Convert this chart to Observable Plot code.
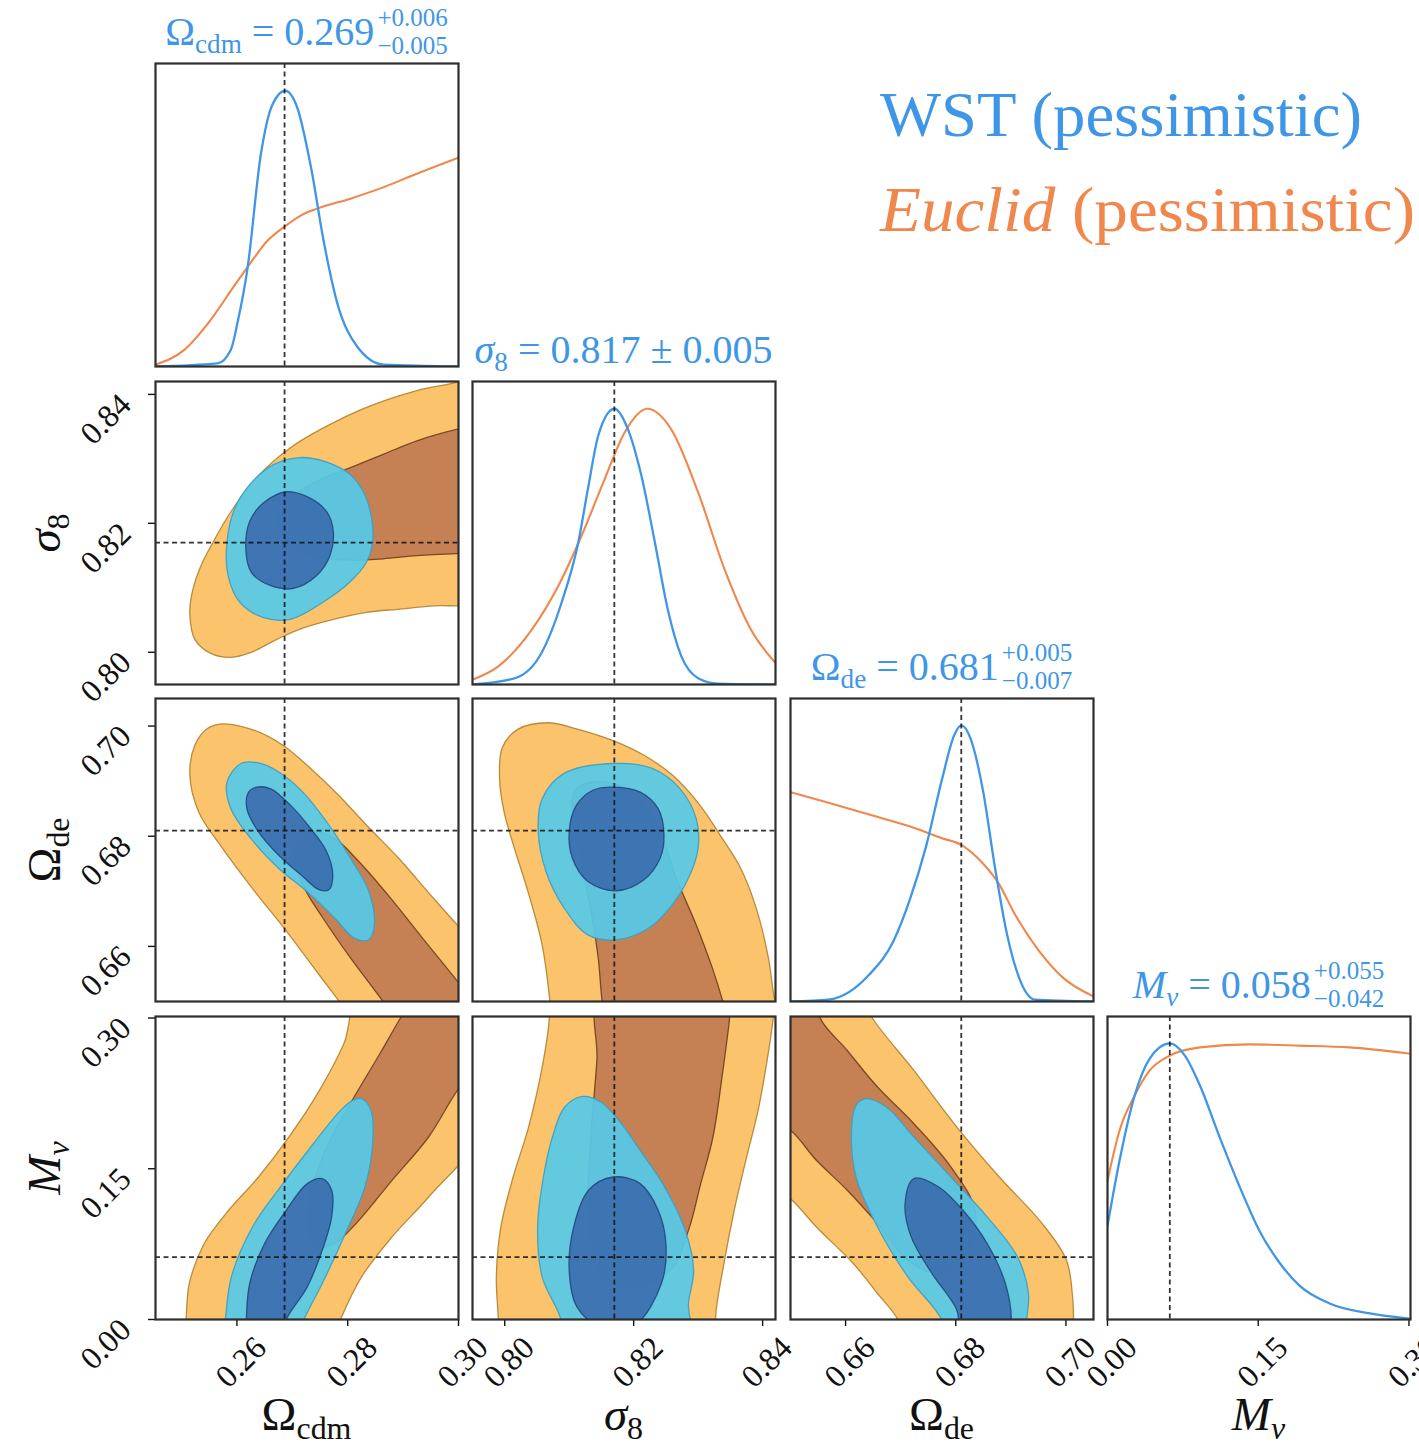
<!DOCTYPE html>
<html><head><meta charset="utf-8">
<script src="https://cdn.jsdelivr.net/npm/d3@7"></script>
<script src="https://cdn.jsdelivr.net/npm/@observablehq/plot@0.6"></script>
<style>
body{margin:0;background:#fff;}
#chart{position:relative;width:1419px;height:1453px;overflow:hidden;background:#fff;font-family:"Liberation Serif",serif;}
#chart svg{position:absolute;}
.ttl{position:absolute;transform:translateX(-50%);height:58px;display:flex;align-items:center;font-size:40px;color:#4096e6;white-space:nowrap;line-height:1;}
.sb{font-size:0.68em;position:relative;top:0.28em;}
.stk{display:flex;flex-direction:column;font-size:25px;line-height:1.12;margin-left:3px;}
.it{font-style:italic;}
.xl{position:absolute;transform:translateX(-50%);font-size:47px;line-height:1;top:1391px;white-space:nowrap;color:#111;}
.yl{position:absolute;left:44px;transform:translate(-50%,-50%) rotate(-90deg);font-size:47px;line-height:1;white-space:nowrap;color:#111;}
.lg{position:absolute;left:880px;font-size:64px;line-height:1;white-space:nowrap;transform-origin:left center;}
</style>
</head><body>
<div id="chart"></div>
<script>
// ---------------- data ----------------
const params = ["Ωcdm", "σ8", "Ωde", "Mν"];
const domains = [[0.2453, 0.300], [0.795, 0.842], [0.650, 0.705], [0.0, 0.3015]];
const tickValues = [[0.26, 0.28, 0.30], [0.80, 0.82, 0.84], [0.66, 0.68, 0.70], [0.00, 0.15, 0.30]];
const fiducial = [0.2686, 0.817, 0.681, 0.062];

// 1D marginal posteriors [value, relative density]
const wst1d_Ocdm = [[0.2453,0],[0.2565,0.01],[0.2589,0.055],[0.2601,0.144],[0.2619,0.322],[0.2643,0.698],[0.2664,0.864],[0.2687,0.910],[0.2709,0.854],[0.2733,0.664],[0.2757,0.410],[0.2781,0.210],[0.2817,0.066],[0.2865,0.006],[0.3000,0]];
const euclid1d_Ocdm = [[0.2453,0.006],[0.2505,0.055],[0.2553,0.155],[0.2595,0.266],[0.2625,0.343],[0.2655,0.415],[0.2687,0.463],[0.2715,0.498],[0.2745,0.521],[0.2805,0.554],[0.2865,0.592],[0.2926,0.637],[0.3000,0.689]];
const wst1d_S8 = [[0.7950,0],[0.8016,0.021],[0.8057,0.104],[0.8088,0.269],[0.8114,0.468],[0.8129,0.645],[0.8145,0.821],[0.8170,0.910],[0.8191,0.843],[0.8212,0.689],[0.8233,0.468],[0.8253,0.247],[0.8274,0.093],[0.8300,0.021],[0.8330,0.003],[0.8420,0]];
const euclid1d_S8 = [[0.7950,0.016],[0.7990,0.060],[0.8042,0.181],[0.8083,0.325],[0.8119,0.490],[0.8155,0.678],[0.8186,0.832],[0.8221,0.910],[0.8258,0.843],[0.8300,0.634],[0.8341,0.380],[0.8382,0.181],[0.8420,0.071]];
const wst1d_Ode = [[0.6500,0],[0.6569,0.006],[0.6643,0.089],[0.6687,0.2],[0.6716,0.333],[0.6746,0.511],[0.6775,0.733],[0.6797,0.878],[0.6810,0.911],[0.6827,0.867],[0.6849,0.7],[0.6871,0.444],[0.6893,0.222],[0.6915,0.078],[0.6944,0.006],[0.7050,0]];
const euclid1d_Ode = [[0.6500,0.691],[0.6569,0.656],[0.6643,0.617],[0.6716,0.578],[0.6775,0.539],[0.6810,0.517],[0.6849,0.456],[0.6878,0.389],[0.6907,0.289],[0.6951,0.167],[0.6995,0.078],[0.7050,0.017]];
const wst1d_Mnu = [[0,0.310],[0.012,0.525],[0.027,0.739],[0.042,0.861],[0.062,0.911],[0.077,0.871],[0.092,0.772],[0.111,0.607],[0.131,0.442],[0.151,0.294],[0.171,0.188],[0.191,0.112],[0.221,0.053],[0.261,0.020],[0.300,0.003]];
const euclid1d_Mnu = [[0,0.459],[0.012,0.624],[0.027,0.739],[0.042,0.822],[0.062,0.871],[0.092,0.898],[0.141,0.908],[0.191,0.904],[0.241,0.898],[0.300,0.878]];

// 2D contour outlines [x value, y value]: 95% and 68% regions
// Ωcdm – σ8
const euclid95_OcdmS8 = [[0.3045,0.8432],[0.2998,0.8419],[0.2925,0.8406],[0.2834,0.8380],[0.2756,0.8348],[0.2696,0.8317],[0.2641,0.8276],[0.2593,0.8223],[0.2557,0.8171],[0.2533,0.8130],[0.2518,0.8088],[0.2515,0.8057],[0.2524,0.8020],[0.2551,0.7999],[0.2587,0.7992],[0.2623,0.7999],[0.2672,0.8020],[0.2714,0.8036],[0.2774,0.8051],[0.2834,0.8062],[0.2895,0.8067],[0.2955,0.8072],[0.2998,0.8072],[0.3045,0.8072]];
const euclid68_OcdmS8 = [[0.3045,0.8354],[0.2998,0.8346],[0.2925,0.8328],[0.2864,0.8307],[0.2804,0.8286],[0.2744,0.8265],[0.2696,0.8239],[0.2672,0.8208],[0.2684,0.8177],[0.2732,0.8150],[0.2804,0.8143],[0.2864,0.8145],[0.2925,0.8150],[0.2998,0.8153],[0.3045,0.8154]];
const wst95_OcdmS8 = [[0.2714,0.8302],[0.2762,0.8295],[0.2804,0.8276],[0.2831,0.8244],[0.2843,0.8208],[0.2845,0.8171],[0.2834,0.8140],[0.2804,0.8109],[0.2756,0.8078],[0.2696,0.8051],[0.2647,0.8054],[0.2605,0.8078],[0.2584,0.8119],[0.2582,0.8171],[0.2596,0.8223],[0.2623,0.8260],[0.2666,0.8291]];
const wst68_OcdmS8 = [[0.2690,0.8249],[0.2732,0.8239],[0.2762,0.8218],[0.2774,0.8187],[0.2768,0.8150],[0.2744,0.8119],[0.2702,0.8099],[0.2659,0.8104],[0.2626,0.8124],[0.2616,0.8161],[0.2623,0.8203],[0.2647,0.8231]];
// Ωcdm – Ωde
const euclid95_OcdmOde = [[0.2574,0.7004],[0.2632,0.6992],[0.2683,0.6965],[0.2733,0.6923],[0.2784,0.6874],[0.2834,0.6820],[0.2892,0.6760],[0.2949,0.6694],[0.2998,0.6639],[0.3058,0.6579],[0.3058,0.6459],[0.2815,0.6459],[0.2784,0.6501],[0.2748,0.6549],[0.2690,0.6627],[0.2632,0.6700],[0.2574,0.6778],[0.2531,0.6844],[0.2515,0.6911],[0.2524,0.6965],[0.2546,0.6995]];
const euclid68_OcdmOde = [[0.2733,0.6808],[0.2776,0.6796],[0.2820,0.6754],[0.2877,0.6688],[0.2935,0.6615],[0.2998,0.6537],[0.3036,0.6489],[0.2892,0.6459],[0.2863,0.6501],[0.2805,0.6579],[0.2755,0.6652],[0.2719,0.6712],[0.2704,0.6772]];
const wst95_OcdmOde = [[0.2607,0.6932],[0.2639,0.6933],[0.2675,0.6917],[0.2719,0.6880],[0.2762,0.6826],[0.2805,0.6760],[0.2838,0.6700],[0.2848,0.6639],[0.2838,0.6612],[0.2812,0.6615],[0.2776,0.6652],[0.2726,0.6700],[0.2675,0.6742],[0.2625,0.6796],[0.2589,0.6850],[0.2582,0.6898]];
const wst68_OcdmOde = [[0.2636,0.6889],[0.2661,0.6886],[0.2697,0.6856],[0.2733,0.6814],[0.2762,0.6772],[0.2773,0.6730],[0.2766,0.6703],[0.2748,0.6703],[0.2719,0.6727],[0.2675,0.6766],[0.2639,0.6808],[0.2618,0.6850],[0.2621,0.6880]];
// σ8 – Ωde
const euclid95_S8Ode = [[0.8067,0.7006],[0.8111,0.6995],[0.8167,0.6974],[0.8216,0.6947],[0.8260,0.6911],[0.8303,0.6856],[0.8334,0.6802],[0.8366,0.6742],[0.8390,0.6670],[0.8409,0.6579],[0.8418,0.6507],[0.8428,0.6459],[0.8073,0.6459],[0.8070,0.6501],[0.8058,0.6603],[0.8036,0.6700],[0.8015,0.6778],[0.7999,0.6844],[0.7992,0.6905],[0.7996,0.6960],[0.8020,0.6994]];
const euclid68_S8Ode = [[0.8111,0.6886],[0.8154,0.6899],[0.8204,0.6874],[0.8241,0.6808],[0.8266,0.6724],[0.8297,0.6639],[0.8322,0.6561],[0.8338,0.6501],[0.8347,0.6459],[0.8157,0.6459],[0.8151,0.6501],[0.8145,0.6579],[0.8133,0.6670],[0.8117,0.6760],[0.8105,0.6832]];
const wst95_S8Ode = [[0.8167,0.6932],[0.8229,0.6923],[0.8272,0.6886],[0.8297,0.6832],[0.8300,0.6778],[0.8285,0.6724],[0.8260,0.6676],[0.8223,0.6633],[0.8173,0.6612],[0.8129,0.6621],[0.8092,0.6670],[0.8064,0.6736],[0.8052,0.6808],[0.8058,0.6868],[0.8092,0.6914]];
const wst68_S8Ode = [[0.8170,0.6889],[0.8210,0.6880],[0.8238,0.6850],[0.8247,0.6802],[0.8241,0.6760],[0.8216,0.6721],[0.8173,0.6701],[0.8129,0.6718],[0.8105,0.6760],[0.8100,0.6808],[0.8111,0.6856],[0.8136,0.6883]];
// Ωcdm – Mν
const euclid95_OcdmMnu = [[0.2825,0.3240],[0.3055,0.3240],[0.3055,0.1981],[0.2946,0.1219],[0.2880,0.0822],[0.2825,0.0424],[0.2787,0.0],[0.2771,-0.0238],[0.2503,-0.0238],[0.2508,0.0],[0.2514,0.0358],[0.2541,0.0756],[0.2585,0.1087],[0.2639,0.1418],[0.2694,0.1816],[0.2749,0.2280],[0.2793,0.2743]];
const euclid68_OcdmMnu = [[0.2924,0.3240],[0.3055,0.3240],[0.3055,0.2677],[0.2998,0.2280],[0.2946,0.1816],[0.2880,0.1385],[0.2815,0.0954],[0.2776,0.0756],[0.2743,0.0722],[0.2727,0.0954],[0.2738,0.1352],[0.2771,0.1816],[0.2815,0.2246],[0.2858,0.2644],[0.2897,0.3015]];
const wst95_OcdmMnu = [[0.2825,0.2197],[0.2842,0.2081],[0.2845,0.1749],[0.2831,0.1319],[0.2793,0.0822],[0.2754,0.0358],[0.2721,0.0],[0.2705,-0.0238],[0.2574,-0.0238],[0.2579,0.0],[0.2590,0.0424],[0.2628,0.0921],[0.2683,0.1352],[0.2738,0.1749],[0.2787,0.2081],[0.2809,0.2180]];
const wst68_OcdmMnu = [[0.2754,0.1402],[0.2771,0.1286],[0.2771,0.1021],[0.2754,0.0689],[0.2727,0.0325],[0.2689,0.0],[0.2678,-0.0238],[0.2617,-0.0238],[0.2617,0.0],[0.2623,0.0358],[0.2650,0.0756],[0.2689,0.1087],[0.2727,0.1352]];
// σ8 – Mν
const euclid95_S8Mnu = [[0.8065,0.3240],[0.8421,0.3240],[0.8417,0.3015],[0.8407,0.2578],[0.8393,0.2081],[0.8374,0.1584],[0.8356,0.1087],[0.8341,0.0590],[0.8327,0.0],[0.8332,-0.0238],[0.7990,-0.0238],[0.7990,0.0],[0.7987,0.0424],[0.7994,0.0921],[0.8013,0.1418],[0.8037,0.1915],[0.8060,0.2578],[0.8069,0.3015]];
const euclid68_S8Mnu = [[0.8149,0.3240],[0.8351,0.3240],[0.8349,0.3015],[0.8337,0.2412],[0.8323,0.1816],[0.8304,0.1352],[0.8285,0.0888],[0.8257,0.0491],[0.8201,0.0325],[0.8149,0.0457],[0.8130,0.1087],[0.8133,0.1749],[0.8143,0.2578]];
const wst95_S8Mnu = [[0.8121,0.2220],[0.8149,0.2164],[0.8177,0.1981],[0.8210,0.1683],[0.8248,0.1319],[0.8280,0.0888],[0.8293,0.0491],[0.8285,0.0159],[0.8285,-0.0238],[0.8088,-0.0238],[0.8087,0.0],[0.8058,0.0424],[0.8051,0.0921],[0.8060,0.1418],[0.8074,0.1816],[0.8093,0.2114]];
const wst68_S8Mnu = [[0.8168,0.1418],[0.8210,0.1352],[0.8238,0.1087],[0.8250,0.0756],[0.8243,0.0358],[0.8201,-0.0056],[0.8144,-0.0056],[0.8112,0.0126],[0.8100,0.0491],[0.8107,0.0921],[0.8130,0.1286]];
// Ωde – Mν
const euclid95_OdeMnu = [[0.6437,0.3240],[0.6630,0.3240],[0.6647,0.3015],[0.6724,0.2478],[0.6802,0.1915],[0.6879,0.1418],[0.6957,0.0954],[0.7001,0.0590],[0.7012,0.0226],[0.7014,0.0],[0.7017,-0.0238],[0.6710,-0.0238],[0.6695,0.0],[0.6658,0.0259],[0.6614,0.0557],[0.6547,0.0921],[0.6503,0.1186],[0.6437,0.1484]];
const euclid68_OdeMnu = [[0.6437,0.3240],[0.6558,0.3240],[0.6553,0.3015],[0.6603,0.2677],[0.6658,0.2313],[0.6724,0.1948],[0.6791,0.1518],[0.6835,0.1087],[0.6824,0.0689],[0.6769,0.0457],[0.6713,0.0590],[0.6658,0.0954],[0.6603,0.1286],[0.6547,0.1584],[0.6500,0.1882],[0.6437,0.2081]];
const wst95_OdeMnu = [[0.6636,0.2197],[0.6674,0.2114],[0.6724,0.1816],[0.6791,0.1418],[0.6857,0.1021],[0.6912,0.0623],[0.6932,0.0259],[0.6929,0.0],[0.6929,-0.0238],[0.6780,-0.0238],[0.6774,0.0],[0.6713,0.0424],[0.6658,0.0921],[0.6619,0.1418],[0.6611,0.1915],[0.6619,0.2130]];
const wst68_OdeMnu = [[0.6724,0.1402],[0.6769,0.1319],[0.6813,0.1087],[0.6857,0.0756],[0.6890,0.0358],[0.6901,0.0],[0.6896,-0.0238],[0.6813,-0.0238],[0.6802,0.0093],[0.6757,0.0457],[0.6719,0.0822],[0.6708,0.1153]];

// ---------------- styling / layout ----------------
const BLUE = "#4096e6", ORANGE = "#f0874c";
const FILL = {e95: "#fbc36c", e68: "#c58054", w95: "#56c9e7", w68: "#3b6fae"};
const EDGE = {e95: "#b3822f", e68: "#6e3f20", w95: "#3aa0c4", w68: "#24477c"};
const colX = [155, 472, 790, 1107];
const rowY = [63, 381, 698, 1016];
const SIZE = 303;

const marginals = [[wst1d_Ocdm, euclid1d_Ocdm], [wst1d_S8, euclid1d_S8], [wst1d_Ode, euclid1d_Ode], [wst1d_Mnu, euclid1d_Mnu]];
const contours = {
  "1-0": [euclid95_OcdmS8, euclid68_OcdmS8, wst95_OcdmS8, wst68_OcdmS8],
  "2-0": [euclid95_OcdmOde, euclid68_OcdmOde, wst95_OcdmOde, wst68_OcdmOde],
  "2-1": [euclid95_S8Ode, euclid68_S8Ode, wst95_S8Ode, wst68_S8Ode],
  "3-0": [euclid95_OcdmMnu, euclid68_OcdmMnu, wst95_OcdmMnu, wst68_OcdmMnu],
  "3-1": [euclid95_S8Mnu, euclid68_S8Mnu, wst95_S8Mnu, wst68_S8Mnu],
  "3-2": [euclid95_OdeMnu, euclid68_OdeMnu, wst95_OdeMnu, wst68_OdeMnu]
};

const fmt = d3.format(".2f");
const blank = () => "";
const dash = {stroke: "#111", strokeWidth: 1.8, strokeDasharray: "5,3.5", strokeOpacity: 0.85};
const TICKFONT = 32;
const chart = document.getElementById("chart");

function contourMark(data, key, opacity) {
  return Plot.line(data, {x: d => d[0], y: d => d[1], curve: "catmull-rom-closed",
    fill: FILL[key], fillOpacity: opacity, stroke: EDGE[key], strokeWidth: 1.3, strokeOpacity: 0.9, clip: true});
}

for (let i = 0; i < 4; i++) {
  for (let j = 0; j <= i; j++) {
    const diag = i === j;
    const marks = [];
    if (diag) {
      const [w, e] = marginals[j];
      marks.push(Plot.line(e, {x: d => d[0], y: d => d[1], stroke: ORANGE, strokeWidth: 2.1, curve: "monotone-x", clip: true}));
      marks.push(Plot.line(w, {x: d => d[0], y: d => d[1], stroke: BLUE, strokeWidth: 2.3, curve: "monotone-x", clip: true}));
      marks.push(Plot.ruleX([fiducial[j]], dash));
    } else {
      const [e95, e68, w95, w68] = contours[`${i}-${j}`];
      marks.push(contourMark(e95, "e95", 1));
      marks.push(contourMark(e68, "e68", 1));
      marks.push(contourMark(w95, "w95", 0.93));
      marks.push(contourMark(w68, "w68", 0.93));
      marks.push(Plot.ruleX([fiducial[j]], dash));
      marks.push(Plot.ruleY([fiducial[i]], dash));
    }
    if (i === 3) {
      marks.push(Plot.axisX({ticks: tickValues[j], tickSize: 7, tickFormat: blank, strokeWidth: 1.4, label: null}));
      marks.push(Plot.axisX({ticks: tickValues[j], tickSize: 0, tickPadding: 11, tickFormat: fmt, tickRotate: -45,
        dx: 24, dy: 12, fontSize: TICKFONT, fill: "#111", label: null}));
    }
    if (j === 0 && !diag) {
      marks.push(Plot.axisY({ticks: tickValues[i], tickSize: 7, tickFormat: blank, strokeWidth: 1.4, label: null}));
      marks.push(Plot.axisY({ticks: tickValues[i], tickSize: 0, tickPadding: 11, tickFormat: fmt, tickRotate: -45,
        dx: -19, dy: 5, fontSize: TICKFONT, fill: "#111", label: null}));
    }
    marks.push(Plot.frame({stroke: "#2e2e2e", strokeWidth: 2.2}));
    const svg = Plot.plot({
      width: SIZE, height: SIZE, margin: 0,
      x: {domain: domains[j], axis: null},
      y: diag ? {domain: [0, 1], axis: null} : {domain: domains[i], axis: null},
      style: {overflow: "visible", fontFamily: "Liberation Serif, serif", fontSize: TICKFONT + "px", background: "none", color: "#111"},
      marks
    });
    svg.style.left = colX[j] + "px";
    svg.style.top = rowY[i] + "px";
    chart.appendChild(svg);
  }
}

// ---------------- text ----------------
const titles = [
  `<span>Ω<span class="sb">cdm</span> = 0.269</span><span class="stk"><span>+0.006</span><span>−0.005</span></span>`,
  `<span><span class="it">σ</span><span class="sb">8</span> = 0.817 ± 0.005</span>`,
  `<span>Ω<span class="sb">de</span> = 0.681</span><span class="stk"><span>+0.005</span><span>−0.007</span></span>`,
  `<span><span class="it">M</span><span class="sb it">ν</span> = 0.058</span><span class="stk"><span>+0.055</span><span>−0.042</span></span>`
];
const labels = [
  `Ω<span class="sb">cdm</span>`,
  `<span class="it">σ</span><span class="sb">8</span>`,
  `Ω<span class="sb">de</span>`,
  `<span class="it">M</span><span class="sb it">ν</span>`
];
titles.forEach((h, k) => {
  const d = document.createElement("div");
  d.className = "ttl";
  d.style.left = (colX[k] + SIZE / 2) + "px";
  d.style.top = (rowY[k] - 60) + "px";
  d.innerHTML = h;
  chart.appendChild(d);
});
labels.forEach((h, k) => {
  const d = document.createElement("div");
  d.className = "xl";
  d.style.left = (colX[k] + SIZE / 2) + "px";
  d.innerHTML = h;
  chart.appendChild(d);
  if (k > 0) {
    const y = document.createElement("div");
    y.className = "yl";
    y.style.top = (rowY[k] + SIZE / 2) + "px";
    y.innerHTML = h;
    chart.appendChild(y);
  }
});
const legend = [
  {html: `WST (pessimistic)`, color: BLUE, top: 83, width: 482},
  {html: `<span class="it">Euclid</span> (pessimistic)`, color: ORANGE, top: 178, width: 535}
];
legend.forEach(l => {
  const d = document.createElement("div");
  d.className = "lg";
  d.style.top = l.top + "px";
  d.style.color = l.color;
  d.innerHTML = l.html;
  chart.appendChild(d);
  const w = d.getBoundingClientRect().width;
  if (w > 0) d.style.transform = `scaleX(${l.width / w})`;
});
</script>
</body></html>
